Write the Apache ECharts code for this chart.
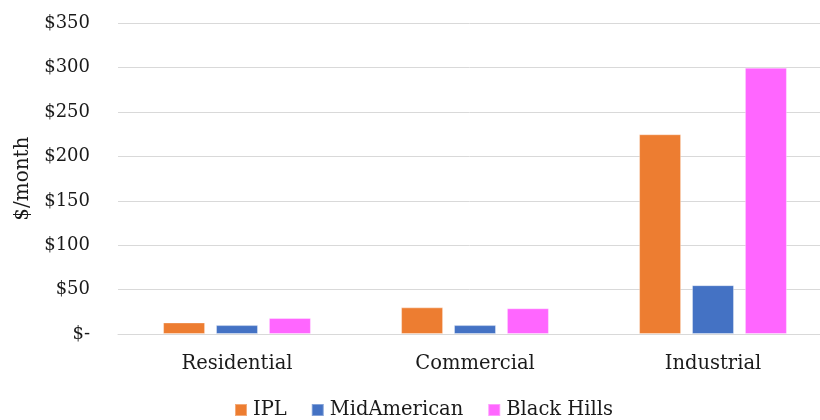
<!DOCTYPE html>
<html>
<head>
<meta charset="utf-8">
<script src="https://cdn.jsdelivr.net/npm/echarts@6/dist/echarts.min.js"></script>
<style>
  html, body { margin: 0; padding: 0; background: #ffffff; }
  #chart { width: 820px; height: 420px; }
</style>
</head>
<body>
<div id="chart"></div>
<script>
// Monthly charge by customer class, $/month
const categories = ['Residential', 'Commercial', 'Industrial'];
const seriesNames = ['IPL', 'MidAmerican', 'Black Hills'];
const iplValues = [13, 30, 225];
const midAmericanValues = [10, 10, 55];
const blackHillsValues = [18, 29, 300];
const yTicks = [0, 50, 100, 150, 200, 250, 300, 350];

const colors = ['#ED7D31', '#4472C4', '#FF66FF'];
const FONT = 'DejaVu Serif';
const TEXT = '#1a1a1a';

const chart = echarts.init(document.getElementById('chart'), null, { renderer: 'canvas' });

const valueSets = [iplValues, midAmericanValues, blackHillsValues];

chart.setOption({
  animation: false,
  backgroundColor: '#ffffff',
  // plot area runs past the right edge of the canvas
  grid: {
    left: 118, width: 714, top: 23.3, height: 310.7,
    containLabel: false, outerBoundsMode: 'none'
  },
  legend: {
    data: seriesNames,
    top: 395,
    left: 229,
    itemWidth: 12,
    itemHeight: 12,
    itemGap: 24,
    icon: 'rect',
    textStyle: { fontFamily: FONT, fontSize: 19.5, color: TEXT, padding: [0, 0, 0, 1] }
  },
  xAxis: {
    type: 'category',
    data: categories,
    axisLine: { show: true, lineStyle: { color: '#D9D9D9', width: 1 } },
    axisTick: { show: false },
    axisLabel: { fontFamily: FONT, fontSize: 19.5, color: TEXT, margin: 20 }
  },
  yAxis: {
    type: 'value',
    min: yTicks[0],
    max: yTicks[yTicks.length - 1],
    interval: yTicks[1] - yTicks[0],
    name: '$/month',
    nameLocation: 'middle',
    nameGap: 84,
    nameRotate: 90,
    nameTextStyle: { fontFamily: FONT, fontSize: 20, color: TEXT },
    axisLine: { show: false },
    axisTick: { show: false },
    splitLine: { lineStyle: { color: '#D9D9D9', width: 1 } },
    axisLabel: {
      fontFamily: FONT, fontSize: 18, color: TEXT, margin: 28,
      formatter: v => v === 0 ? '$-' : '$' + v
    }
  },
  series: seriesNames.map((name, i) => ({
    name: name,
    type: 'bar',
    data: valueSets[i],
    barWidth: 42,
    barGap: '26%',
    itemStyle: { color: colors[i], borderColor: 'rgba(255,255,255,0.35)', borderWidth: 1 }
  }))
});
</script>
</body>
</html>
